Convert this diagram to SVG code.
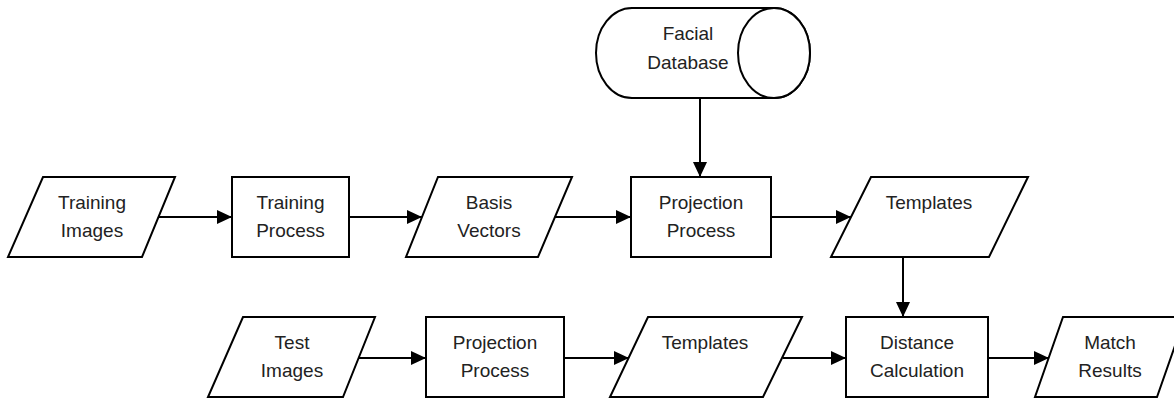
<svg xmlns="http://www.w3.org/2000/svg" width="1174" height="400" viewBox="0 0 1174 400">
<defs>
<marker id="ah" markerWidth="15" markerHeight="14" refX="15" refY="7" orient="auto" markerUnits="userSpaceOnUse">
<path d="M0,0 L15,7 L0,14 Z" fill="#000"/>
</marker>
<style>
.s{fill:#fff;stroke:#000;stroke-width:2;stroke-linejoin:miter}
.t{font-family:"Liberation Sans",Arial,sans-serif;font-size:19px;fill:#222;text-anchor:middle}
.c{fill:none;stroke:#000;stroke-width:2;marker-end:url(#ah)}
</style>
</defs>
<rect width="1174" height="400" fill="#fff"/>
<g id="connectors">
<line class="c" x1="158" y1="217" x2="232" y2="217"/>
<line class="c" x1="349" y1="217" x2="422" y2="217"/>
<line class="c" x1="555" y1="217" x2="631" y2="217"/>
<line class="c" x1="771" y1="217" x2="851" y2="217"/>
<line class="c" x1="700" y1="98" x2="700" y2="177"/>
<line class="c" x1="903" y1="257" x2="903" y2="317"/>
<line class="c" x1="359" y1="358" x2="426" y2="358"/>
<line class="c" x1="564" y1="358" x2="629" y2="358"/>
<line class="c" x1="783" y1="358" x2="846" y2="358"/>
<line class="c" x1="988" y1="358" x2="1049" y2="358"/>
</g>
<g id="facial-database">
<path class="s" d="M632,8 L774,8 A36,45 0 0 1 774,98 L632,98 A36,45 0 0 1 632,8 Z"/>
<ellipse class="s" cx="774" cy="53" rx="36" ry="45"/>
<text class="t" x="688" y="40">Facial</text>
<text class="t" x="688" y="69">Database</text>
</g>
<g id="training-images">
<polygon class="s" points="43,177 175,177 142,257 8,257"/>
<text class="t" x="92" y="209">Training</text>
<text class="t" x="92" y="237">Images</text>
</g>
<g id="training-process">
<rect class="s" x="232" y="177" width="117" height="80"/>
<text class="t" x="290.5" y="209">Training</text>
<text class="t" x="290.5" y="237">Process</text>
</g>
<g id="basis-vectors">
<polygon class="s" points="438,177 572,177 538,257 406,257"/>
<text class="t" x="489" y="209">Basis</text>
<text class="t" x="489" y="237">Vectors</text>
</g>
<g id="projection-process-1">
<rect class="s" x="631" y="177" width="140" height="80"/>
<text class="t" x="701" y="209">Projection</text>
<text class="t" x="701" y="237">Process</text>
</g>
<g id="templates-1">
<polygon class="s" points="871,177 1028,177 989,257 831,257"/>
<text class="t" x="929" y="209">Templates</text>
</g>
<g id="test-images">
<polygon class="s" points="243,317 375,317 343,397 208,397"/>
<text class="t" x="292" y="349">Test</text>
<text class="t" x="292" y="377">Images</text>
</g>
<g id="projection-process-2">
<rect class="s" x="426" y="317" width="138" height="80"/>
<text class="t" x="495" y="349">Projection</text>
<text class="t" x="495" y="377">Process</text>
</g>
<g id="templates-2">
<polygon class="s" points="648,317 802,317 763,397 610,397"/>
<text class="t" x="705" y="349">Templates</text>
</g>
<g id="distance-calculation">
<rect class="s" x="846" y="317" width="142" height="80"/>
<text class="t" x="917" y="349">Distance</text>
<text class="t" x="917" y="377">Calculation</text>
</g>
<g id="match-results">
<polygon class="s" points="1063,317 1185,317 1157,397 1035,397"/>
<text class="t" x="1110" y="349">Match</text>
<text class="t" x="1110" y="377">Results</text>
</g>
</svg>
